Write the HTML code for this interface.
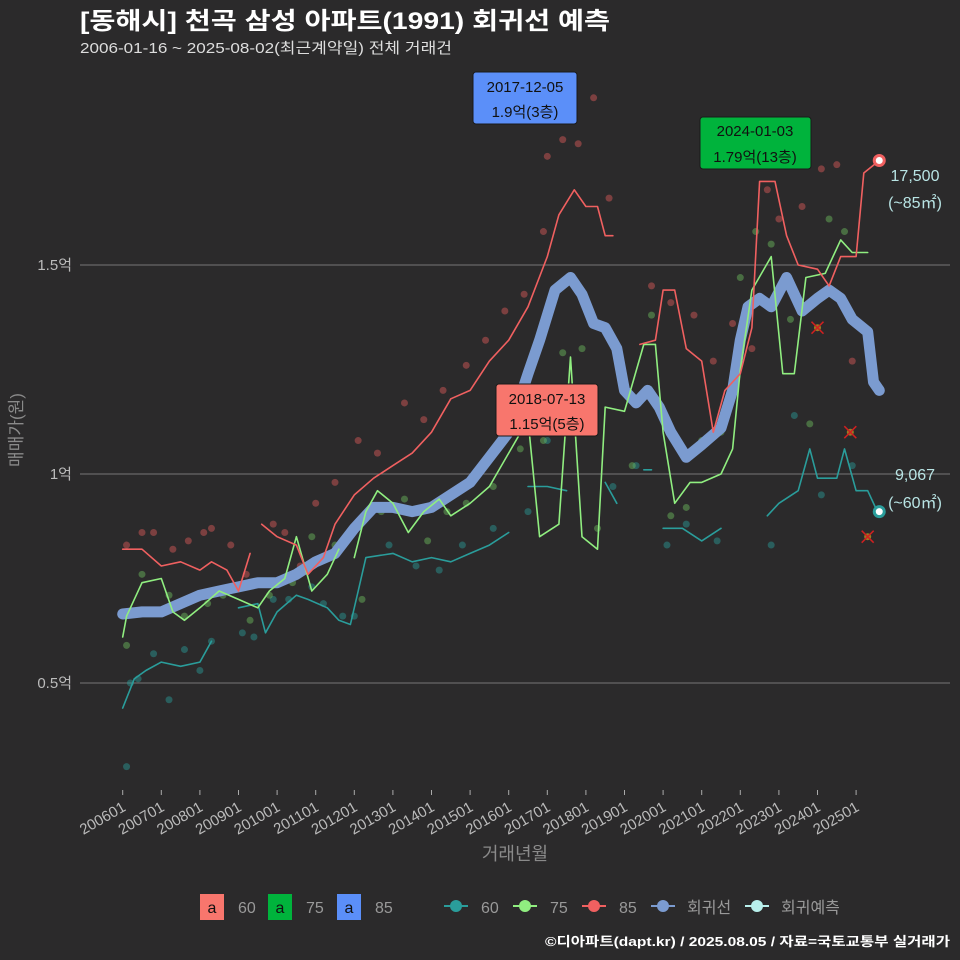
<!DOCTYPE html>
<html><head><meta charset="utf-8">
<style>
body{margin:0;background:#2b2a2b;}
svg{display:block;font-family:"Liberation Sans","Noto Sans CJK KR",sans-serif;}
</style></head>
<body>
<svg id="chart" width="960" height="960" viewBox="0 0 960 960" xmlns="http://www.w3.org/2000/svg">
<rect width="960" height="960" fill="#2b2a2b"/>
<text x="80" y="29" fill="#ffffff" font-size="24" font-weight="bold" textLength="530" lengthAdjust="spacingAndGlyphs">[동해시] 천곡 삼성 아파트(1991) 회귀선 예측</text>
<text x="80" y="53" fill="#dddddd" font-size="15" textLength="372" lengthAdjust="spacingAndGlyphs">2006-01-16 ~ 2025-08-02(최근계약일) 전체 거래건</text>
<g id="grid"></g>
<g id="yticks"></g>
<g id="xticks"></g>
<text transform="translate(22,430) rotate(-90)" text-anchor="middle" fill="#8a8a8a" font-size="17">매매가(원)</text>
<text x="515" y="860" text-anchor="middle" fill="#8a8a8a" font-size="18">거래년월</text>
<g id="points"></g>
<g id="lines"></g>
<g id="marks"></g>

<g>
<rect x="473" y="72" width="104" height="52" rx="3" fill="#5b8ff9" stroke="#1a1a1a"/>
<text x="525" y="92" text-anchor="middle" font-size="15" fill="#111">2017-12-05</text>
<text x="525" y="117" text-anchor="middle" font-size="15" fill="#111">1.9억(3층)</text>
</g>
<g>
<rect x="700" y="117" width="111" height="52" rx="3" fill="#00b33c" stroke="#1a1a1a"/>
<text x="755" y="136" text-anchor="middle" font-size="15" fill="#111">2024-01-03</text>
<text x="755" y="162" text-anchor="middle" font-size="15" fill="#111">1.79억(13층)</text>
</g>
<g>
<rect x="496" y="384" width="102" height="52" rx="3" fill="#f8766d" stroke="#1a1a1a"/>
<text x="547" y="404" text-anchor="middle" font-size="15" fill="#111">2018-07-13</text>
<text x="547" y="429" text-anchor="middle" font-size="15" fill="#111">1.15억(5층)</text>
</g>
<text x="915" y="181" text-anchor="middle" font-size="16" fill="#b8e4e4">17,500</text>
<text x="915" y="208" text-anchor="middle" font-size="16" fill="#b8e4e4">(~85㎡)</text>
<text x="915" y="480" text-anchor="middle" font-size="16" fill="#b8e4e4">9,067</text>
<text x="915" y="508" text-anchor="middle" font-size="16" fill="#b8e4e4">(~60㎡)</text>

<g font-size="16">
<rect x="200" y="894" width="24" height="26" fill="#f8766d"/><text x="212" y="913" text-anchor="middle" fill="#111">a</text><text x="238" y="913" fill="#999">60</text>
<rect x="268" y="894" width="24" height="26" fill="#00b33c"/><text x="280" y="913" text-anchor="middle" fill="#111">a</text><text x="306" y="913" fill="#999">75</text>
<rect x="337" y="894" width="24" height="26" fill="#5b8ff9"/><text x="349" y="913" text-anchor="middle" fill="#111">a</text><text x="375" y="913" fill="#999">85</text>
<line x1="444" y1="906" x2="468" y2="906" stroke="#2a9d9b" stroke-width="2"/><circle cx="456" cy="906" r="6" fill="#2a9d9b"/><text x="481" y="913" fill="#999">60</text>
<line x1="513" y1="906" x2="537" y2="906" stroke="#90ee80" stroke-width="2"/><circle cx="525" cy="906" r="6" fill="#90ee80"/><text x="550" y="913" fill="#999">75</text>
<line x1="582" y1="906" x2="606" y2="906" stroke="#f06060" stroke-width="2"/><circle cx="594" cy="906" r="6" fill="#f06060"/><text x="619" y="913" fill="#999">85</text>
<line x1="651" y1="906" x2="675" y2="906" stroke="#7b9bd0" stroke-width="2"/><circle cx="663" cy="906" r="6" fill="#7b9bd0"/><text x="687" y="913" fill="#999">회귀선</text>
<line x1="745" y1="906" x2="769" y2="906" stroke="#b8f0ec" stroke-width="2"/><circle cx="757" cy="906" r="6" fill="#b8f0ec"/><text x="781" y="913" fill="#999">회귀예측</text>
</g>
<text x="950" y="946" text-anchor="end" font-size="13" font-weight="bold" fill="#ffffff" textLength="405" lengthAdjust="spacingAndGlyphs">©디아파트(dapt.kr) / 2025.08.05 / 자료=국토교통부 실거래가</text>
</svg>
<script>
const yTickVals=[0.5,1,1.5];
const yTickLabels=["0.5억","1억","1.5억"];
const xTickYears=[2006,2007,2008,2009,2010,2011,2012,2013,2014,2015,2016,2017,2018,2019,2020,2021,2022,2023,2024,2025];
const xTickLabels=["200601","200701","200801","200901","201001","201101","201201","201301","201401","201501","201601","201701","201801","201901","202001","202101","202201","202301","202401","202501"];
const regT=[2006.0,2006.5,2007,2007.5,2008,2008.5,2009,2009.5,2010,2010.5,2011,2011.5,2012,2012.5,2013,2013.5,2014,2014.5,2015,2015.5,2016,2016.5,2016.8,2017.2,2017.6,2017.9,2018.2,2018.5,2018.8,2019.0,2019.3,2019.6,2019.9,2020.2,2020.6,2021,2021.5,2021.8,2022,2022.2,2022.5,2022.8,2023.2,2023.6,2024,2024.3,2024.6,2024.9,2025.3,2025.45,2025.6];
const regV=[0.665,0.67,0.67,0.69,0.71,0.72,0.73,0.74,0.74,0.76,0.79,0.81,0.87,0.92,0.92,0.91,0.92,0.95,0.98,1.04,1.10,1.24,1.32,1.44,1.47,1.43,1.36,1.35,1.30,1.20,1.17,1.20,1.16,1.10,1.04,1.07,1.11,1.20,1.32,1.40,1.42,1.40,1.47,1.39,1.42,1.44,1.42,1.37,1.34,1.22,1.20];
const s85T=[2006,2006.5,2007,2007.5,2008,2008.3,2008.7,2009,2009.3,null,2009.6,2010,2010.5,2010.8,2011.2,2011.5,2012,2012.5,2013,2013.5,2014,2014.5,2015,2015.5,2016,2016.5,2017,2017.3,2017.7,2018.0,2018.3,2018.5,2018.7,null,2019.4,2019.8,2020,2020.3,2020.6,2021,2021.3,2021.6,2022,2022.3,2022.5,2022.9,2023.2,2023.5,2024,2024.3,2024.6,2025,2025.2,2025.6];
const s85V=[0.82,0.82,0.78,0.79,0.77,0.79,0.77,0.72,0.81,null,0.88,0.85,0.83,0.76,0.80,0.88,0.95,0.99,1.02,1.05,1.10,1.18,1.20,1.27,1.32,1.40,1.52,1.62,1.68,1.64,1.64,1.57,1.57,null,1.31,1.32,1.44,1.44,1.30,1.27,1.10,1.20,1.24,1.35,1.70,1.70,1.57,1.50,1.49,1.45,1.52,1.52,1.72,1.75];
const s75T=[2006,2006.1,2006.5,2007,2007.3,2007.6,2008,2008.5,2009,2009.5,2009.8,2010.2,2010.5,2010.9,2011.3,2011.6,null,2012.0,2012.3,2012.6,2013,2013.4,2013.8,2014.2,2014.5,2015,2015.5,2016,2016.5,2016.8,2017.3,2017.6,2017.9,2018.3,2018.5,2019,2019.5,2019.8,2020,2020.3,2020.7,2021,2021.5,2021.8,2022,2022.3,2022.8,2023.1,2023.4,2023.7,2024.2,2024.6,2024.9,2025.3];
const s75V=[0.61,0.66,0.74,0.75,0.67,0.65,0.68,0.72,0.70,0.68,0.72,0.75,0.85,0.72,0.76,0.82,null,0.80,0.91,0.96,0.93,0.86,0.91,0.94,0.90,0.93,0.97,1.05,1.13,0.85,0.88,1.28,0.85,0.82,1.16,1.15,1.31,1.31,1.10,0.93,0.98,0.98,1.00,1.06,1.25,1.44,1.52,1.24,1.24,1.47,1.48,1.56,1.53,1.53];
const s60T=[2006,2006.3,2006.6,2007,2007.5,2008,2008.3,null,2009.0,2009.5,2009.7,2010,2010.5,2010.8,2011.3,2011.6,2011.9,2012.1,2012.3,2013,2013.5,2014,2014.5,2015,2015.5,2016,null,2016.5,2017,2017.5,null,2018.5,2018.8,null,2019.5,2019.7,null,2020,2020.5,2021,2021.5,null,2022.7,2023,2023.5,2023.8,2024,2024.5,2024.7,2025,2025.3,2025.6];
const s60V=[0.44,0.51,0.53,0.55,0.54,0.55,0.60,null,0.68,0.69,0.62,0.67,0.71,0.70,0.68,0.65,0.64,0.72,0.80,0.81,0.79,0.80,0.79,0.81,0.83,0.86,null,0.97,0.97,0.96,null,0.98,0.93,null,1.01,1.01,null,0.87,0.87,0.84,0.87,null,0.90,0.93,0.96,1.06,0.99,0.99,1.06,0.96,0.96,0.90];
const p85T=[2006.1,2006.5,2006.8,2007.3,2007.7,2008.1,2008.3,2008.8,2009.2,2009.9,2010.2,2010.6,2011.0,2011.5,2012.1,2012.6,2013.3,2013.8,2014.3,2014.9,2015.4,2015.9,2016.4,2016.9,2017.0,2017.4,2017.8,2018.2,2018.6,2019.7,2020.2,2020.8,2021.3,2021.8,2022.3,2022.7,2023.0,2023.6,2024.1,2024.5,2024.9];
const p85V=[0.83,0.86,0.86,0.82,0.84,0.86,0.87,0.83,0.76,0.88,0.86,0.78,0.93,0.98,1.08,1.05,1.17,1.13,1.20,1.26,1.32,1.39,1.43,1.58,1.76,1.80,1.79,1.90,1.66,1.45,1.41,1.38,1.27,1.36,1.30,1.68,1.61,1.64,1.73,1.74,1.27];
const p75T=[2006.1,2006.5,2007.2,2007.6,2008.2,2008.6,2009.3,2009.8,2010.4,2010.9,2011.5,2012.2,2012.7,2013.3,2013.9,2014.4,2014.9,2015.6,2016.3,2016.9,2017.4,2017.9,2018.3,2019.2,2019.7,2020.2,2020.6,2021.0,2021.5,2022.0,2022.4,2022.8,2023.3,2023.8,2024.3,2024.7];
const p75V=[0.59,0.76,0.71,0.66,0.69,0.71,0.65,0.71,0.74,0.85,0.83,0.70,0.91,0.94,0.84,0.91,0.93,0.97,1.06,1.08,1.29,1.30,0.87,1.02,1.38,0.90,0.92,1.08,1.10,1.47,1.58,1.55,1.37,1.12,1.61,1.58];
const p60T=[2006.1,2006.2,2006.4,2006.8,2007.2,2007.6,2008.0,2008.3,2009.1,2009.4,2009.9,2010.3,2010.9,2011.2,2011.7,2012.0,2012.9,2013.6,2014.2,2014.8,2015.6,2016.5,2017.0,2018.7,2019.3,2020.1,2020.6,2021.4,2022.8,2023.4,2024.1,2024.9];
const p60V=[0.30,0.50,0.51,0.57,0.46,0.58,0.53,0.60,0.62,0.61,0.70,0.70,0.73,0.69,0.66,0.66,0.83,0.78,0.77,0.83,0.87,0.91,1.08,0.97,1.02,0.83,0.88,0.84,0.83,1.14,0.95,1.02];
const xMarkT=[2024.0,2024.85,2025.3];
const xMarkV=[1.35,1.10,0.85];
const fcT=[2025.6,2025.6];
const fcV=[1.75,0.91];

const NS="http://www.w3.org/2000/svg";
function X(t){return 122.7+(t-2006)*38.6;}
function Y(v){return 474-(v-1)*418;}
function mk(tag,attrs,parent){const e=document.createElementNS(NS,tag);for(const k in attrs)e.setAttribute(k,attrs[k]);parent.appendChild(e);return e;}
const grid=document.getElementById('grid'),yt=document.getElementById('yticks'),xt=document.getElementById('xticks');
yTickVals.forEach((v,i)=>{
  const l=mk('line',{x1:80,x2:950,y1:Y(v),y2:Y(v),stroke:'#777','stroke-width':1},grid);
  
  
  const t=mk('text',{x:72,y:Y(v)+5,'text-anchor':'end',fill:'#bbbbbb','font-size':15},yt);
  t.textContent=yTickLabels[i];
  
  
});
xTickYears.forEach((yr,i)=>{
  const x=X(yr);
  mk('line',{x1:x,x2:x,y1:790,y2:795,stroke:'#aaa'},xt);
  const t=mk('text',{x:x+4,y:810,'text-anchor':'end',fill:'#bbbbbb','font-size':15,transform:`rotate(-30 ${x+4} 810)`},xt);
  t.textContent=xTickLabels[i];
  
  
});
const pts=document.getElementById('points');
function scatter(T,V,color,name){
  T.forEach((t,i)=>{
    const c=mk('circle',{cx:X(t),cy:Y(V[i]),r:3.5,fill:color,'fill-opacity':0.45},pts);
    
    
  });
}
scatter(p60T,p60V,'#2a9d9b','point-60');
scatter(p75T,p75V,'#6fbf5f','point-75');
scatter(p85T,p85V,'#e05a5a','point-85');
const lines=document.getElementById('lines');
function pathD(T,V){let d='',m=true;T.forEach((t,i)=>{if(t===null){m=true;return;}d+=(m?'M':'L')+X(t).toFixed(1)+','+Y(V[i]).toFixed(1);m=false;});return d;}
function line(T,V,color,w,name){
  const p=mk('path',{d:pathD(T,V),fill:'none',stroke:color,'stroke-width':w,'stroke-linejoin':'round','stroke-linecap':'round'},lines);
  
  
}
line(regT,regV,'#7b9bd0',11,'regression-line');
line(s60T,s60V,'#2a9d9b',1.6,'line-60');
line(s75T,s75V,'#90ee80',1.6,'line-75');
line(s85T,s85V,'#f06060',1.6,'line-85');
const marks=document.getElementById('marks');
xMarkT.forEach((t,i)=>{
  const x=X(t),y=Y(xMarkV[i]);
  const g=mk('g',{},marks);
  
  
  mk('circle',{cx:x,cy:y,r:3.5,fill:'#c8a020','fill-opacity':0.7},g);
  mk('path',{d:`M${x-6},${y-6}L${x+6},${y+6}M${x+6},${y-6}L${x-6},${y+6}`,stroke:'#d02020','stroke-width':1.5},g);
});
const fcColors=['#f06060','#2a9d9b'];
fcT.forEach((t,i)=>{
  const c=mk('circle',{cx:X(t),cy:Y(fcV[i]),r:5,fill:'#ffffff',stroke:fcColors[i],'stroke-width':3},marks);
  
  
});
</script>
</body></html>
